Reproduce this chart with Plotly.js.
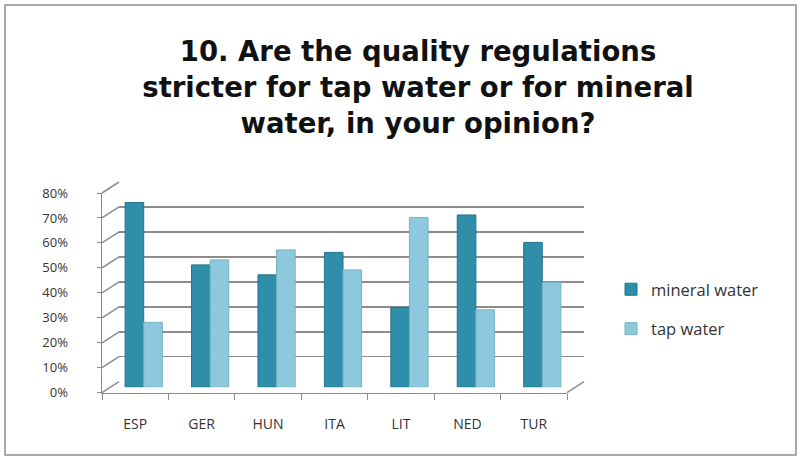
<!DOCTYPE html>
<html>
<head>
<meta charset="utf-8">
<script src="https://cdn.plot.ly/plotly-3.0.1.min.js"></script>
<style>html,body{margin:0;padding:0;background:#fff;}#chart{width:801px;height:460px;}</style>
</head>
<body>
<div id="chart"></div>
<script>
const categories = ["ESP", "GER", "HUN", "ITA", "LIT", "NED", "TUR"];
const mineralWater = [0.74, 0.49, 0.45, 0.54, 0.32, 0.69, 0.58];
const tapWater = [0.26, 0.51, 0.55, 0.47, 0.68, 0.31, 0.42];
const yTicks = [0, 0.1, 0.2, 0.3, 0.4, 0.5, 0.6, 0.7, 0.8];
const yTickText = ["0%", "10%", "20%", "30%", "40%", "50%", "60%", "70%", "80%"];

const W = 801, H = 460;
// front plane (pixels)
const FX0 = 102, FX1 = 567, FY0 = 392.7, FY1 = 193;
// depth offset
const DX = 17, DY = -11;
const px = v => v / W;
const py = v => (H - v) / H;

const data = [
  {type: "bar", name: "mineral water", x: categories, y: mineralWater, xaxis: "x3", yaxis: "y3",
   marker: {color: "#2f8eaa", line: {color: "#23748c", width: 1}}, legendgroup: "a"},
  {type: "bar", name: "tap water", x: categories, y: tapWater, xaxis: "x3", yaxis: "y3",
   marker: {color: "#8dc8dc", line: {color: "#74b2c7", width: 1}}, legendgroup: "b"},
  // invisible traces so the front and back-wall axes are drawn
  {type: "scatter", mode: "markers", x: categories, y: categories.map(() => null), xaxis: "x", yaxis: "y",
   showlegend: false, hoverinfo: "skip"},
  {type: "scatter", mode: "markers", x: categories, y: categories.map(() => null), xaxis: "x2", yaxis: "y2",
   showlegend: false, hoverinfo: "skip"}
];

const shapes = [];
// diagonal connectors on the left wall edge
yTicks.forEach(v => {
  const yf = FY0 + (FY1 - FY0) * v / 0.8;
  shapes.push({type: "line", xref: "paper", yref: "paper", layer: "below",
    x0: px(FX0), y0: py(yf), x1: px(FX0 + DX), y1: py(yf + DY),
    line: {color: "#8c8c8c", width: 1.5}});
});
// floor right diagonal
shapes.push({type: "line", xref: "paper", yref: "paper",
  x0: px(FX1), y0: py(FY0), x1: px(FX1 + DX), y1: py(FY0 + DY),
  line: {color: "#8c8c8c", width: 1.5}});
// outer border
shapes.push({type: "rect", xref: "paper", yref: "paper",
  x0: px(5), y0: py(455), x1: px(796), y1: py(5),
  line: {color: "#8f8f8f", width: 1.5}, fillcolor: "rgba(0,0,0,0)"});

const tickFont = {family: "'Open Sans', sans-serif", size: 13, color: "#333"};

const layout = {
  width: W, height: H,
  margin: {l: 0, r: 0, t: 0, b: 0},
  paper_bgcolor: "#fff", plot_bgcolor: "rgba(0,0,0,0)",
  title: {
    text: "10. Are the quality regulations<br>stricter for tap water or for mineral<br>water, in your opinion?",
    font: {family: "'DejaVu Sans', sans-serif", size: 27.5, color: "#111", weight: "bold"},
    x: 418 / W, xanchor: "center", y: py(61), yanchor: "middle"
  },
  showlegend: true,
  legend: {x: px(611), y: py(272), xanchor: "left", yanchor: "top",
    font: {family: "'Open Sans', sans-serif", size: 16.5, color: "#333"},
    tracegroupgap: 15, bgcolor: "rgba(0,0,0,0)"},
  barmode: "group", bargap: 0.44, bargroupgap: 0,
  // front axes: labels, ticks, front edge
  xaxis: {domain: [px(FX0), px(FX1)], anchor: "y", type: "category", range: [-0.5, 6.5],
    categoryarray: categories, tickson: "boundaries", ticks: "outside", ticklen: 6, tickcolor: "#8c8c8c",
    showline: true, linecolor: "#8c8c8c", linewidth: 1.5, showgrid: false, zeroline: false,
    tickfont: {family: "'Open Sans', sans-serif", size: 14, color: "#333"}, ticklabelstandoff: 18, fixedrange: true},
  yaxis: {domain: [py(FY0), py(FY1)], anchor: "x", range: [0, 0.8], tickvals: yTicks, ticktext: yTickText,
    ticks: "outside", ticklen: 4, tickcolor: "#8c8c8c", showline: true, linecolor: "#8c8c8c", linewidth: 1.5,
    showgrid: false, zeroline: false, tickfont: tickFont, ticklabelstandoff: 26, fixedrange: true},
  // back wall axes: gridlines
  xaxis2: {domain: [px(FX0 + DX), px(FX1 + DX)], anchor: "y2", type: "category", range: [-0.5, 6.5],
    categoryarray: categories, showticklabels: false, showgrid: false, zeroline: false, showline: false, ticks: ""},
  yaxis2: {domain: [py(FY0 + DY), py(FY1 + DY)], anchor: "x2", range: [0, 0.8], tickvals: yTicks,
    showticklabels: false, showgrid: true, gridcolor: "#8c8c8c", gridwidth: 1.5, zeroline: false, showline: false, ticks: ""},
  // mid-depth axes: bars
  xaxis3: {domain: [px(FX0 + DX / 2), px(FX1 + DX / 2)], anchor: "y3", type: "category", range: [-0.5, 6.5],
    categoryarray: categories, showticklabels: false, showgrid: false, zeroline: false, showline: false},
  yaxis3: {domain: [py(FY0 + DY / 2), py(FY1 + DY / 2)], anchor: "x3", range: [0, 0.8],
    showticklabels: false, showgrid: false, zeroline: false, showline: false},
  shapes: shapes
};

Plotly.newPlot("chart", data, layout, {displayModeBar: false, staticPlot: true});
</script>
</body>
</html>
